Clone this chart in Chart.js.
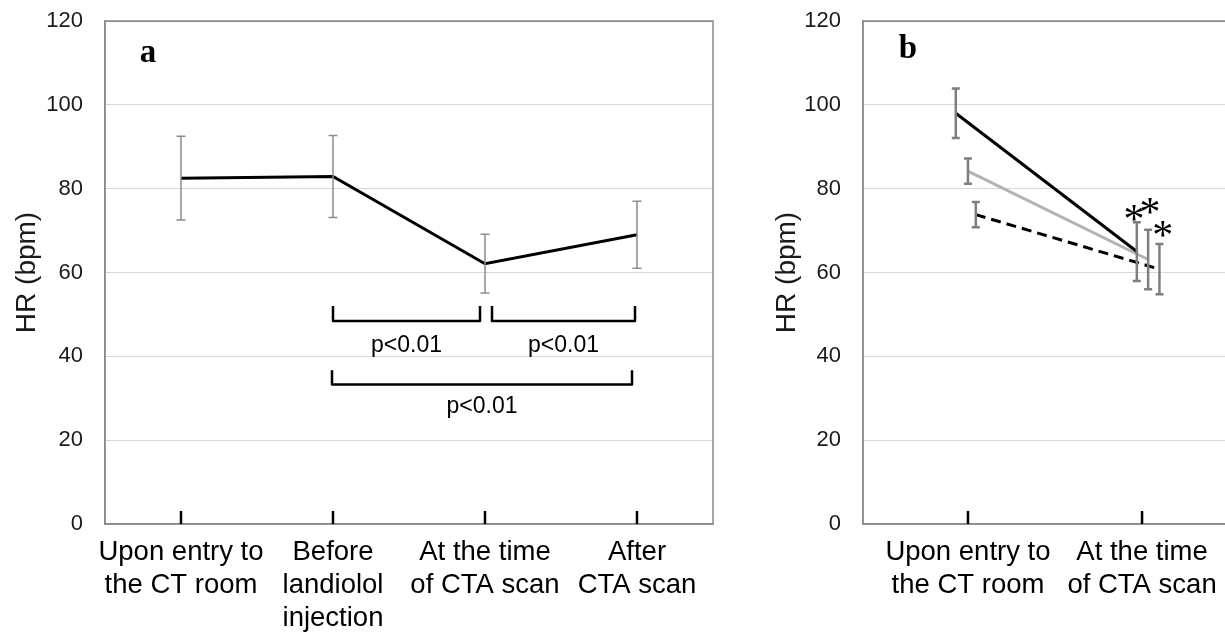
<!DOCTYPE html>
<html>
<head>
<meta charset="utf-8">
<script src="https://cdn.jsdelivr.net/npm/chart.js@4.4.1/dist/chart.umd.min.js"></script>
<style>
  html, body { margin: 0; padding: 0; background: #fff; overflow: hidden; width: 1225px; height: 633px; }
  #wa { position: absolute; left: 0; top: 0; width: 740px; height: 633px; }
  #wb { position: absolute; left: 740px; top: 0; width: 500px; height: 633px; }
</style>
</head>
<body>
<div id="wa"><canvas id="ca"></canvas></div>
<div id="wb"><canvas id="cb"></canvas></div>
<script>
// panel a
const labelsA = [["Upon entry to", "the CT room"], ["Before", "landiolol", "injection"], ["At the time", "of CTA scan"], ["After", "CTA scan"]];
const hrA = [82.5, 82.9, 62.1, 69.0];
const sdA = [10.0, 9.8, 7.0, 8.0];

// panel b (x = category index, slightly staggered per group as in the figure)
const labelsB = [["Upon entry to", "the CT room"], ["At the time", "of CTA scan"]];
const xB1 = [-0.07, 0.97];
const hrB1 = [98.0, 65.0];
const sdB1 = [5.9, 7.0];
const xB2 = [0.0, 1.035];
const hrB2 = [84.2, 63.1];
const sdB2 = [3.0, 7.1];
const xB3 = [0.045, 1.1];
const hrB3 = [73.8, 60.8];
const sdB3 = [3.0, 6.0];

const yTicks = [0, 20, 40, 60, 80, 100, 120];

// significance brackets (panel a): categories joined, bracket heights in bpm
const brackets = [
  { from: 1, to: 2, top: 52, bottom: 48.4, nudgeL: 0, nudgeR: -5, text: "p<0.01", textY: 42.6 },
  { from: 2, to: 3, top: 52, bottom: 48.4, nudgeL: 7, nudgeR: -2, text: "p<0.01", textY: 42.6 },
  { from: 1, to: 3, top: 36.7, bottom: 33.3, nudgeL: -1, nudgeR: -5, text: "p<0.01", textY: 27.9 }
];
// asterisks (panel b)
const starsB = [
  { x: 0.954, y: 74.4 },
  { x: 1.046, y: 76.0 },
  { x: 1.119, y: 70.5 }
];

const SANS = "'Liberation Sans', Arial, sans-serif";
const SERIF = "'Liberation Serif', 'Times New Roman', serif";

const errorBars = {
  id: "errorBars",
  afterDatasetsDraw(chart) {
    const ctx = chart.ctx, y = chart.scales.y;
    chart.data.datasets.forEach((ds, di) => {
      if (!ds.err) return;
      const meta = chart.getDatasetMeta(di);
      ctx.save();
      ctx.strokeStyle = ds.errColor;
      ctx.lineWidth = ds.errWidth;
      meta.data.forEach((pt, i) => {
        const v = typeof ds.data[i] === "object" ? ds.data[i].y : ds.data[i];
        const t = y.getPixelForValue(v + ds.err[i]);
        const b = y.getPixelForValue(v - ds.err[i]);
        const c = ds.capW / 2;
        ctx.beginPath();
        ctx.moveTo(pt.x, t); ctx.lineTo(pt.x, b);
        ctx.moveTo(pt.x - c, t); ctx.lineTo(pt.x + c, t);
        ctx.moveTo(pt.x - c, b); ctx.lineTo(pt.x + c, b);
        ctx.stroke();
      });
      ctx.restore();
    });
  }
};

const frame = {
  id: "frame",
  beforeDatasetsDraw(chart, args, opts) {
    const { ctx, chartArea: a } = chart;
    ctx.save();
    ctx.strokeStyle = "#8a8a8a";
    ctx.lineWidth = 1.5;
    ctx.strokeRect(a.left, a.top, a.right - a.left, a.bottom - a.top);
    // inner tick marks at the categories
    ctx.strokeStyle = "#000";
    ctx.lineWidth = 2.5;
    opts.ticks.forEach(v => {
      const px = chart.scales.x.getPixelForValue(v);
      ctx.beginPath();
      ctx.moveTo(px, a.bottom);
      ctx.lineTo(px, a.bottom - 13);
      ctx.stroke();
    });
    ctx.restore();
  },
  afterDraw(chart, args, opts) {
    const { ctx, chartArea: a } = chart;
    ctx.save();
    ctx.fillStyle = "#000";
    ctx.font = "bold 33px " + SERIF;
    ctx.textAlign = "center";
    ctx.textBaseline = "alphabetic";
    ctx.fillText(opts.letter, a.left + opts.letterDx, a.top + opts.letterDy);
    ctx.restore();
  }
};

const bracketPlugin = {
  id: "brackets",
  afterDraw(chart) {
    const { ctx } = chart, x = chart.scales.x, y = chart.scales.y;
    ctx.save();
    ctx.strokeStyle = "#000";
    ctx.lineWidth = 2.5;
    ctx.lineJoin = "round";
    ctx.fillStyle = "#000";
    ctx.font = "23px " + SANS;
    ctx.textAlign = "center";
    ctx.textBaseline = "middle";
    brackets.forEach(bk => {
      const l = x.getPixelForValue(bk.from) + bk.nudgeL;
      const r = x.getPixelForValue(bk.to) + bk.nudgeR;
      const t = y.getPixelForValue(bk.top), b = y.getPixelForValue(bk.bottom);
      ctx.beginPath();
      ctx.moveTo(l, t); ctx.lineTo(l, b); ctx.lineTo(r, b); ctx.lineTo(r, t);
      ctx.stroke();
      ctx.fillText(bk.text, (l + r) / 2, y.getPixelForValue(bk.textY));
    });
    ctx.restore();
  }
};

const starPlugin = {
  id: "stars",
  afterDraw(chart) {
    const { ctx } = chart, x = chart.scales.x, y = chart.scales.y;
    ctx.save();
    ctx.fillStyle = "#000";
    ctx.font = "42px " + SERIF;
    ctx.textAlign = "center";
    ctx.textBaseline = "alphabetic";
    starsB.forEach(s => {
      ctx.fillText("*", x.getPixelForValue(s.x), y.getPixelForValue(s.y) + 21);
    });
    ctx.restore();
  }
};

function yScale(width, titlePad) {
  return {
    min: 0, max: 120,
    afterBuildTicks: s => { s.ticks = yTicks.map(v => ({ value: v })); },
    afterFit: s => { s.width = width; },
    ticks: { font: { family: SANS, size: 22 }, color: "#1a1a1a", padding: 0 },
    grid: {
      color: c => (c.tick && c.tick.value === 120 ? "#8a8a8a" : "#d9d9d9"), lineWidth: 1,
      drawTicks: true, tickLength: 22, tickColor: "rgba(0,0,0,0)"
    },
    border: { display: true, color: "#8a8a8a", width: 1.5 },
    title: { display: true, text: "HR (bpm)", font: { family: SANS, size: 28 }, color: "#1a1a1a", padding: { top: titlePad, bottom: 0 } }
  };
}

const xTickFont = { family: SANS, size: 27.5, lineHeight: 1.2 };

new Chart(document.getElementById("ca"), {
  type: "line",
  data: {
    labels: labelsA,
    datasets: [{
      data: hrA, err: sdA, errColor: "#8c8c8c", errWidth: 1.5, capW: 9,
      borderColor: "#000", borderWidth: 3, pointRadius: 0, tension: 0
    }]
  },
  options: {
    responsive: true, maintainAspectRatio: false, animation: false,
    layout: { padding: { left: 0, top: 21, right: 27, bottom: 0 } },
    plugins: {
      legend: { display: false }, tooltip: { enabled: false },
      frame: { ticks: [0, 1, 2, 3], letter: "a", letterDx: 43, letterDy: 41 }
    },
    scales: {
      x: {
        type: "category", offset: true,
        afterFit: s => { s.height = 109; },
        ticks: { font: xTickFont, color: "#000", padding: 12, maxRotation: 0, autoSkip: false },
        grid: { display: false, drawTicks: false },
        border: { display: true, color: "#8a8a8a", width: 1.5 }
      },
      y: yScale(105, 10)
    }
  },
  plugins: [frame, errorBars, bracketPlugin]
});

const pts = (xs, ys) => xs.map((v, i) => ({ x: v, y: ys[i] }));
const bErr = { errColor: "#7f7f7f", errWidth: 2.5, capW: 8, pointRadius: 0, borderWidth: 3, tension: 0 };

new Chart(document.getElementById("cb"), {
  type: "line",
  data: {
    datasets: [
      Object.assign({ data: pts(xB1, hrB1), err: sdB1, borderColor: "#000" }, bErr),
      Object.assign({ data: pts(xB2, hrB2), err: sdB2, borderColor: "#b3b3b3" }, bErr),
      Object.assign({ data: pts(xB3, hrB3), err: sdB3, borderColor: "#000", borderDash: [10, 6] }, bErr)
    ]
  },
  options: {
    responsive: true, maintainAspectRatio: false, animation: false,
    layout: { padding: { left: 0, top: 21, right: 5, bottom: 0 } },
    plugins: {
      legend: { display: false }, tooltip: { enabled: false },
      frame: { ticks: [0, 1], letter: "b", letterDx: 45, letterDy: 37 }
    },
    scales: {
      x: {
        type: "linear", min: -0.603, max: 1.534,
        afterBuildTicks: s => { s.ticks = [{ value: 0 }, { value: 1 }]; },
        afterFit: s => { s.height = 109; },
        ticks: { font: xTickFont, color: "#000", padding: 12, maxRotation: 0, autoSkip: false, callback: v => labelsB[v] },
        grid: { display: false, drawTicks: false },
        border: { display: true, color: "#8a8a8a", width: 1.5 }
      },
      y: yScale(123, 30)
    }
  },
  plugins: [frame, errorBars, starPlugin]
});
</script>
</body>
</html>
